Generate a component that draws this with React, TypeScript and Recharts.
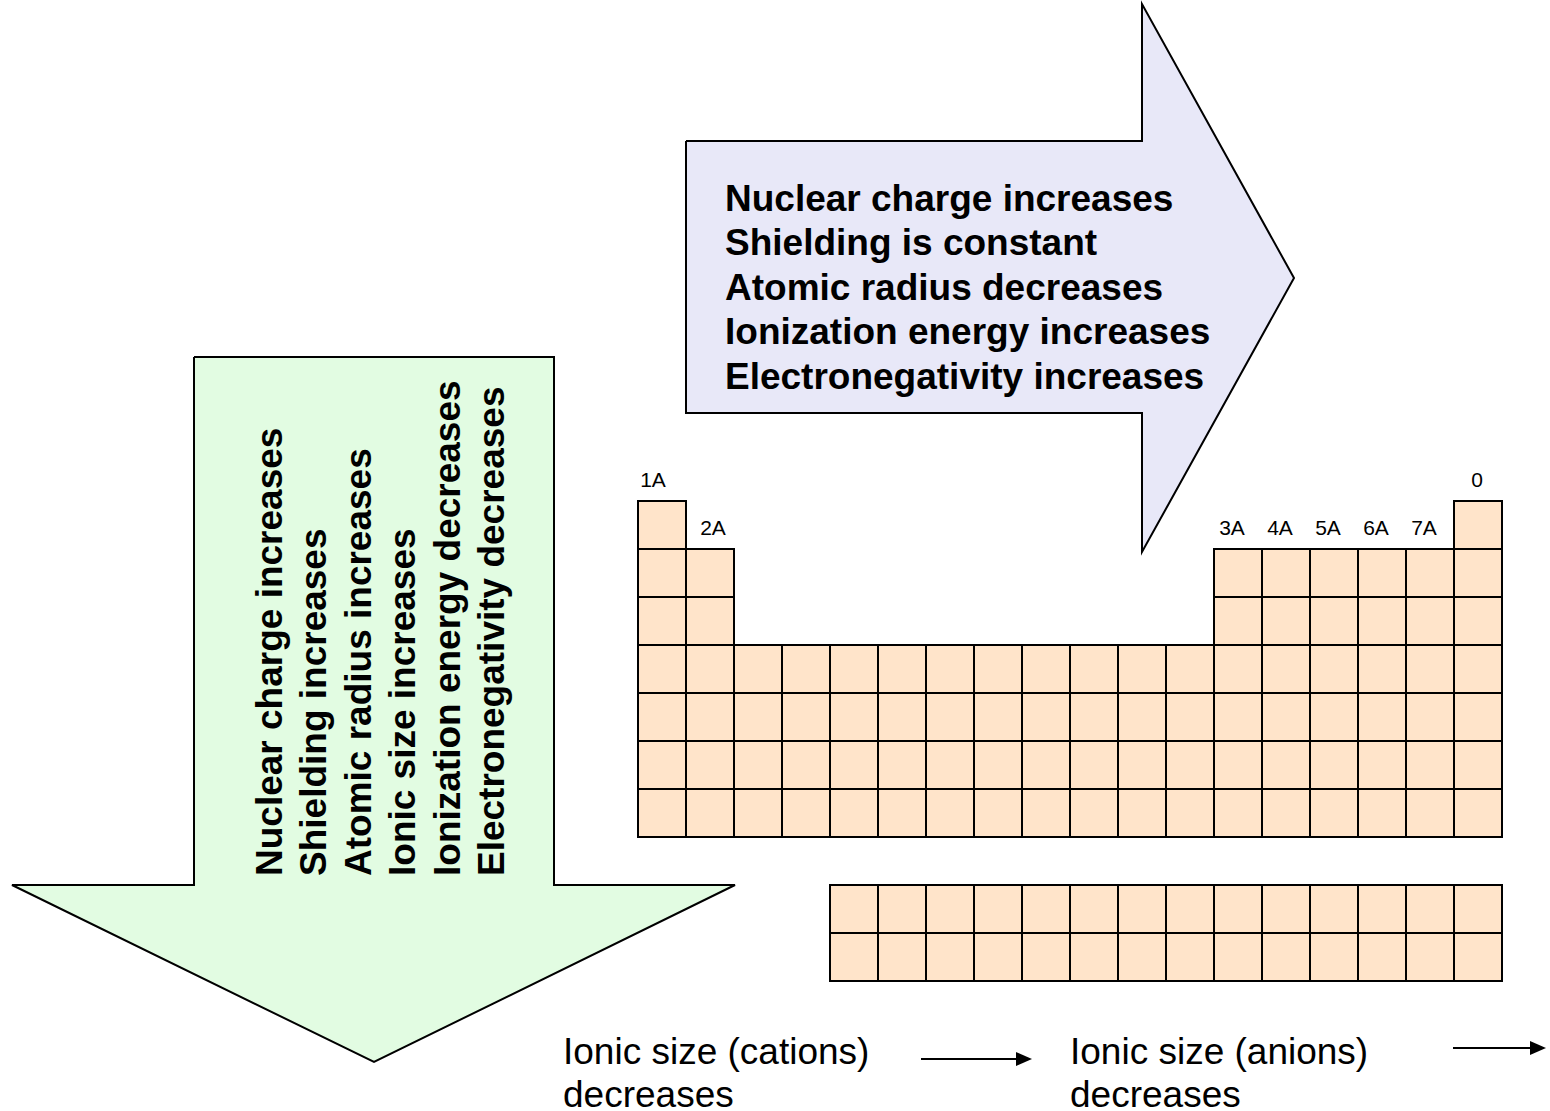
import React from 'react';
import { ComposedChart, XAxis, YAxis, Area, Line, ReferenceArea, ReferenceLine, ReferenceDot } from 'recharts';

const WIDTH = 1550;
const HEIGHT = 1111;
const CELL_PX = 48;
const TABLE_LEFT_PX = 638;
const TABLE_TOP_PX = 501;

const FONT = '"Liberation Sans", Arial, sans-serif';
const PEACH = '#FFE4CA';
const LAVENDER = '#E8E8F8';
const MINT = '#E2FCE2';

// periodic table, in cell units (group = column, period = row)
const periods = [1, 2, 3, 4, 5, 6, 7];
const allGroups = [1, 2, 3, 4, 5, 6, 7, 8, 9, 10, 11, 12, 13, 14, 15, 16, 17, 18];
const groupsByPeriod = [
  [1, 18],
  [1, 2, 13, 14, 15, 16, 17, 18],
  [1, 2, 13, 14, 15, 16, 17, 18],
  allGroups,
  allGroups,
  allGroups,
  allGroups,
];
const fBlockRows = [9, 10];
const fBlockCols = [5, 6, 7, 8, 9, 10, 11, 12, 13, 14, 15, 16, 17, 18];

const groupLabels = ['1A', '2A', '3A', '4A', '5A', '6A', '7A', '0'];
const groupLabelCols = [1, 2, 13, 14, 15, 16, 17, 18];

// right arrow (page units)
const rightArrowFill = [
  { x: 686, y: [141, 413] },
  { x: 1142, y: [141, 413] },
  { x: 1142, y: [4, 552] },
  { x: 1294, y: [278, 278] },
];
const rightArrowOutline = [
  { x: 686, y: 141 },
  { x: 1142, y: 141 },
  { x: 1142, y: 4 },
  { x: 1294, y: 278 },
  { x: 1142, y: 552 },
  { x: 1142, y: 413 },
  { x: 686, y: 413 },
  { x: 686, y: 141 },
];
const rightArrowText = [
  'Nuclear charge increases',
  'Shielding is constant',
  'Atomic radius decreases',
  'Ionization energy increases',
  'Electronegativity increases',
];

// down arrow (page units)
const downArrowHead = [
  { x: 12, y: [885, 885] },
  { x: 374, y: [885, 1062] },
  { x: 735, y: [885, 885] },
];
const downArrowOutline = [
  { x: 194, y: 357 },
  { x: 554, y: 357 },
  { x: 554, y: 885 },
  { x: 735, y: 885 },
  { x: 374, y: 1062 },
  { x: 12, y: 885 },
  { x: 194, y: 885 },
  { x: 194, y: 357 },
];
const downArrowText = [
  'Nuclear charge increases',
  'Shielding increases',
  'Atomic radius increases',
  'Ionic size increases',
  'Ionization energy decreases',
  'Electronegativity decreases',
];

const cationNote = ['Ionic size (cations)', 'decreases'];
const anionNote = ['Ionic size (anions)', 'decreases'];

const cells = [
  ...groupsByPeriod.flatMap((gs, i) => gs.map((g) => ({ col: g, row: periods[i] }))),
  ...fBlockRows.flatMap((r) => fBlockCols.map((c) => ({ col: c, row: r }))),
];

const firstRowOf = (col: number) => periods.find((p, i) => groupsByPeriod[i].includes(col)) ?? 1;

// cell grid -> page units (the axes then map page units to pixels)
const colX = (c: number) => TABLE_LEFT_PX + c * CELL_PX;
const rowY = (r: number) => TABLE_TOP_PX + r * CELL_PX;

// small nudges so labels sit like the original
const LABEL_NUDGE: Record<string, number> = { '1A': -9, '2A': 3, '0': -1 };

const textBlock = (lines: string[], size: number, bold: boolean, rotate: boolean, step = '1.2em') => (props: any) => {
  const { cx, cy } = props;
  return (
    <text
      x={cx}
      y={cy}
      transform={rotate ? `rotate(-90 ${cx} ${cy})` : undefined}
      fontFamily={FONT}
      fontSize={size}
      fontWeight={bold ? 700 : 400}
      fill="#000"
    >
      {lines.map((l, i) => (
        <tspan key={i} x={cx} dy={i === 0 ? '0.35em' : step}>
          {l}
        </tspan>
      ))}
    </text>
  );
};

const groupLabelShape = (label: string) => (props: any) => (
  <text
    x={props.cx + (LABEL_NUDGE[label] ?? -6)}
    y={props.cy - 22}
    textAnchor="middle"
    dominantBaseline="central"
    fontFamily={FONT}
    fontSize={21}
    fill="#000"
  >
    {label}
  </text>
);

const ArrowShape = (props: any) => {
  const { x1, y1, x2, y2 } = props;
  return (
    <g>
      <line x1={x1} y1={y1} x2={x2 - 12} y2={y2} stroke="#000" strokeWidth={2} />
      <polygon points={`${x2},${y2} ${x2 - 16},${y2 - 7} ${x2 - 16},${y2 + 7}`} fill="#000" />
    </g>
  );
};

export default function App() {
  return (
    <div style={{ position: 'absolute', left: 0, top: 0, width: WIDTH, height: HEIGHT, background: '#fff' }}>
      <ComposedChart width={WIDTH} height={HEIGHT} margin={{ top: 0, right: 0, bottom: 0, left: 0 }}>
        <XAxis xAxisId="px" type="number" dataKey="x" domain={[0, WIDTH]} hide allowDataOverflow />
        <YAxis yAxisId="px" type="number" domain={[0, HEIGHT]} reversed hide allowDataOverflow />

        {/* down arrow */}
        <ReferenceArea xAxisId="px" yAxisId="px" x1={194} x2={554} y1={357} y2={885} fill={MINT} fillOpacity={1} stroke="none" />
        <Area
          xAxisId="px"
          yAxisId="px"
          data={downArrowHead}
          dataKey="y"
          type="linear"
          fill={MINT}
          fillOpacity={1}
          stroke="none"
          isAnimationActive={false}
        />
        <Line
          xAxisId="px"
          yAxisId="px"
          data={downArrowOutline}
          dataKey="y"
          type="linear"
          stroke="#000"
          strokeWidth={2}
          dot={false}
          activeDot={false}
          isAnimationActive={false}
        />

        {/* right arrow */}
        <Area
          xAxisId="px"
          yAxisId="px"
          data={rightArrowFill}
          dataKey="y"
          type="linear"
          fill={LAVENDER}
          fillOpacity={1}
          stroke="none"
          isAnimationActive={false}
        />
        <Line
          xAxisId="px"
          yAxisId="px"
          data={rightArrowOutline}
          dataKey="y"
          type="linear"
          stroke="#000"
          strokeWidth={2}
          dot={false}
          activeDot={false}
          isAnimationActive={false}
        />

        {/* periodic table cells */}
        {cells.map((c, i) => (
          <ReferenceArea
            key={`cell-${i}`}
            xAxisId="px"
            yAxisId="px"
            x1={colX(c.col - 1)}
            x2={colX(c.col)}
            y1={rowY(c.row - 1)}
            y2={rowY(c.row)}
            fill={PEACH}
            fillOpacity={1}
            stroke="#000"
            strokeWidth={2}
          />
        ))}

        {groupLabels.map((label, i) => (
          <ReferenceDot
            key={`lbl-${label}`}
            xAxisId="px"
            yAxisId="px"
            x={colX(groupLabelCols[i] - 0.5)}
            y={rowY(firstRowOf(groupLabelCols[i]) - 1)}
            r={1}
            shape={groupLabelShape(label)}
          />
        ))}

        {/* arrow texts */}
        <ReferenceDot xAxisId="px" yAxisId="px" x={725} y={198} r={1} shape={textBlock(rightArrowText, 37, true, false)} />
        <ReferenceDot xAxisId="px" yAxisId="px" x={269} y={876} r={1} shape={textBlock(downArrowText, 37, true, true)} />

        {/* ionic size notes */}
        <ReferenceDot xAxisId="px" yAxisId="px" x={563} y={1051} r={1} shape={textBlock(cationNote, 37, false, false, '1.16em')} />
        <ReferenceDot xAxisId="px" yAxisId="px" x={1070} y={1051} r={1} shape={textBlock(anionNote, 37, false, false, '1.16em')} />
        <ReferenceLine
          xAxisId="px"
          yAxisId="px"
          segment={[{ x: 921, y: 1059 }, { x: 1032, y: 1059 }]}
          shape={ArrowShape}
        />
        <ReferenceLine
          xAxisId="px"
          yAxisId="px"
          segment={[{ x: 1453, y: 1048 }, { x: 1546, y: 1048 }]}
          shape={ArrowShape}
        />
      </ComposedChart>
    </div>
  );
}
